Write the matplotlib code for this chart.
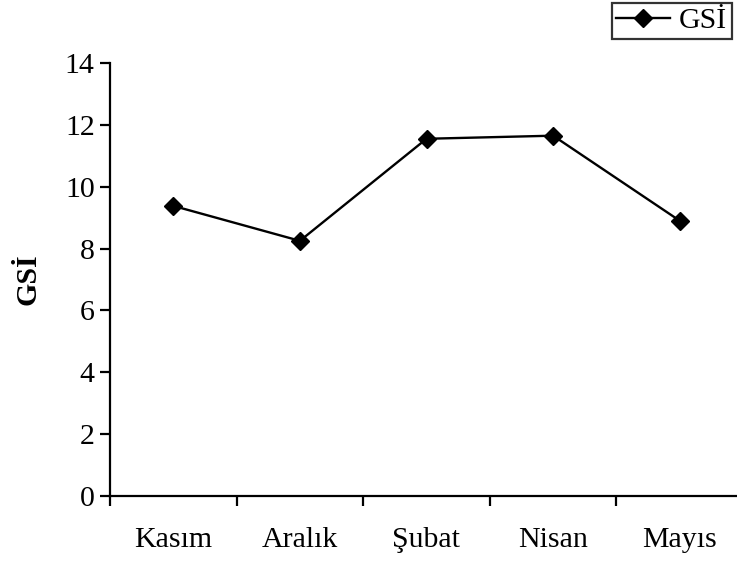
import matplotlib
matplotlib.use("Agg")
import matplotlib.pyplot as plt
import numpy as np

months = ["Kasım", "Aralık", "Şubat", "Nisan", "Mayıs"]
gsi = [9.38, 8.25, 11.55, 11.65, 8.9]
yticks = [0, 2, 4, 6, 8, 10, 12, 14]

plt.rcParams["font.family"] = ["Liberation Serif", "DejaVu Serif"]
FS = 21.5

W, H = 737, 563
fig = plt.figure(figsize=(W / 100, H / 100), dpi=100)
ax = fig.add_axes([110 / W, 1 - 496 / H, 633 / W, 433 / H])

x = np.arange(len(months))
ax.plot(x, gsi, color="black", lw=1.7, marker="D", ms=9, label="GSİ")

ax.set_xlim(-0.5, len(months) - 0.5)
ax.set_ylim(0, 14)
ax.set_yticks(yticks)
ax.set_yticklabels([str(v) for v in yticks], fontsize=FS)

# category boundaries carry the ticks, names sit in the middle
ax.set_xticks(np.arange(len(months) + 1) - 0.5)
ax.set_xticklabels([])
ax.set_xticks(x, minor=True)
ax.set_xticklabels(months, minor=True, fontsize=FS)
ax.tick_params(axis="x", which="major", direction="out", length=7, width=1.6)
ax.tick_params(axis="x", which="minor", length=0, pad=22)
ax.tick_params(axis="y", direction="out", length=7, width=1.6, pad=4)

for side in ("top", "right"):
    ax.spines[side].set_visible(False)
for side in ("left", "bottom"):
    ax.spines[side].set_linewidth(1.6)

ax.set_ylabel("GSİ", fontsize=FS, fontweight="bold", labelpad=17)

leg = fig.legend(loc="upper left", bbox_to_anchor=(612 / W, 1 - 3 / H),
                 fontsize=FS, frameon=True, fancybox=False, edgecolor="black",
                 handlelength=1.8, handletextpad=0.3, borderpad=0.15,
                 borderaxespad=0)
leg.get_frame().set_linewidth(1.6)

fig.savefig("out.png", dpi=100)
